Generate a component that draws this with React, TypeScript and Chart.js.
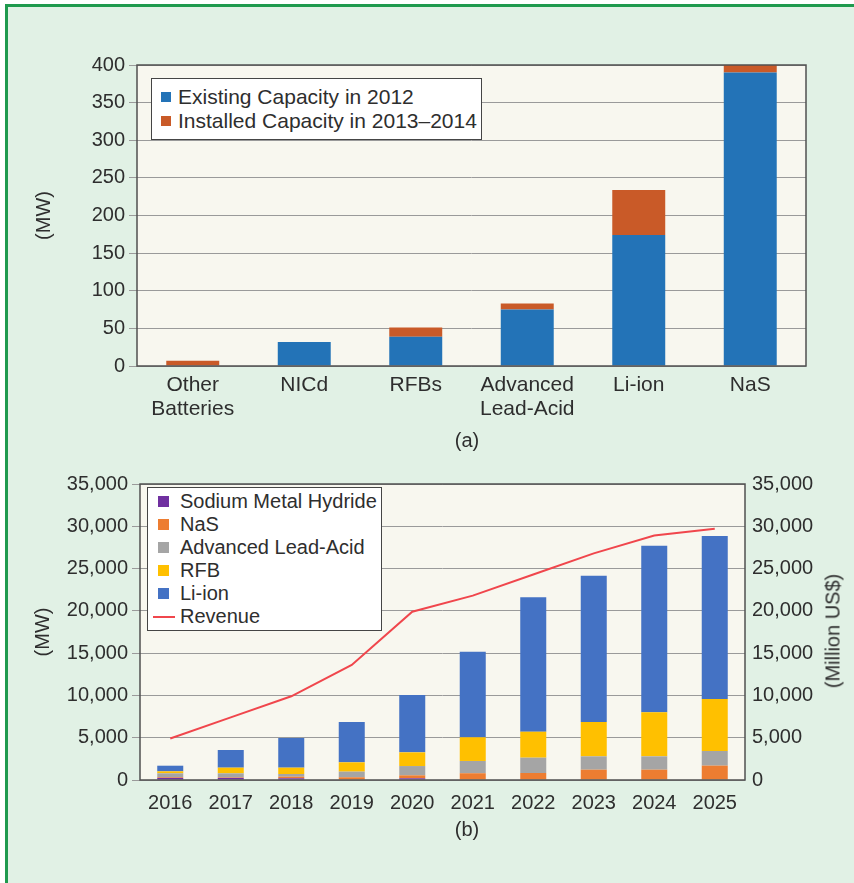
import React, { useEffect, useRef } from 'react';
import { Chart, registerables } from 'chart.js';

Chart.register(...registerables);

const FONT = '"Liberation Sans", Arial, Helvetica, sans-serif';
const TEXT = '#2e2e2e';
const GRID = '#9a9a9a';
const FRAME = '#505050';
const PLOT_BG = '#f8f7ef';

// ---------- Chart (a) data ----------
const categoriesA: (string | string[])[] = [['Other', 'Batteries'], 'NICd', 'RFBs', ['Advanced', 'Lead-Acid'], 'Li-ion', 'NaS'];
const existing2012 = [0, 32, 39, 75, 174, 390];
const installed2013to2014 = [7, 0, 12, 8, 60, 10];
const seriesNamesA = ['Existing Capacity in 2012', 'Installed Capacity in 2013–2014'];
const seriesColorsA = ['#2373b7', '#c95a28'];
const yMaxA = 400;
const yStepA = 50;

// ---------- Chart (b) data ----------
const years = ['2016', '2017', '2018', '2019', '2020', '2021', '2022', '2023', '2024', '2025'];
const sodiumMetalHydride = [250, 250, 200, 0, 200, 0, 0, 0, 0, 0];
const nasMW = [80, 60, 190, 320, 350, 800, 830, 1220, 1220, 1700];
const advancedLeadAcid = [460, 480, 320, 670, 1100, 1450, 1810, 1580, 1580, 1730];
const rfb = [240, 670, 750, 1100, 1620, 2800, 3070, 4060, 5200, 6150];
const liIon = [660, 2090, 3510, 4770, 6780, 10120, 15900, 17300, 19700, 19270];
const revenue = [4900, 7400, 9900, 13600, 19900, 21800, 24300, 26800, 28900, 29700];
const seriesNamesB = ['Sodium Metal Hydride', 'NaS', 'Advanced Lead-Acid', 'RFB', 'Li-ion'];
const seriesColorsB = ['#7030a0', '#ed7d31', '#a5a5a5', '#ffc000', '#4472c4'];
const revenueName = 'Revenue';
const revenueColor = '#f0464c';
const yMaxB = 35000;
const yStepB = 5000;

const fmt = (v: number | string) => Number(v).toLocaleString('en-US');

const plotFrame = {
  id: 'plotFrame',
  beforeDraw(chart: any) {
    const { ctx, chartArea } = chart;
    const { left, top, width, height } = chartArea;
    ctx.save();
    ctx.fillStyle = PLOT_BG;
    ctx.fillRect(left, top, width, height);
    ctx.restore();
  },
  afterDatasetsDraw(chart: any) {
    const { ctx, chartArea } = chart;
    const { left, top, width, height } = chartArea;
    ctx.save();
    ctx.strokeStyle = FRAME;
    ctx.lineWidth = 1.5;
    ctx.strokeRect(left, top, width, height);
    ctx.restore();
  },
};

const tickFont = { family: FONT, size: 20 };
const catFontA = { family: FONT, size: 21 };

function ChartA() {
  const ref = useRef<HTMLCanvasElement>(null);
  useEffect(() => {
    const chart = new Chart(ref.current as HTMLCanvasElement, {
      type: 'bar',
      data: {
        labels: categoriesA as any,
        datasets: [
          { label: seriesNamesA[0], data: existing2012, backgroundColor: seriesColorsA[0], barPercentage: 0.475, categoryPercentage: 1 },
          { label: seriesNamesA[1], data: installed2013to2014, backgroundColor: seriesColorsA[1], barPercentage: 0.475, categoryPercentage: 1 },
        ],
      },
      options: {
        animation: false,
        responsive: false,
        layout: { padding: { left: 0, top: 25, right: 48, bottom: 0 } },
        plugins: { legend: { display: false }, tooltip: { enabled: false } },
        scales: {
          x: {
            stacked: true,
            grid: { display: false },
            border: { display: false },
            ticks: { color: TEXT, font: { ...catFontA, lineHeight: 1.14 }, padding: -1, maxRotation: 0, autoSkip: false },
            afterFit: (s: any) => { s.height = 74; },
          },
          y: {
            stacked: true,
            min: 0,
            max: yMaxA,
            ticks: { stepSize: yStepA, color: TEXT, font: tickFont, padding: 4 },
            grid: { color: GRID, lineWidth: 1, drawTicks: true, tickLength: 8 },
            border: { display: false },
            title: { display: true, text: '(MW)', color: TEXT, font: tickFont, padding: { top: 32, bottom: 0 } },
            afterFit: (s: any) => { s.width = 137; },
          },
        },
      } as any,
      plugins: [plotFrame],
    });
    return () => chart.destroy();
  }, []);
  return <canvas ref={ref} width={854} height={400} style={{ position: 'absolute', left: 0, top: 40, width: 854, height: 400 }} />;
}

function ChartB() {
  const ref = useRef<HTMLCanvasElement>(null);
  useEffect(() => {
    const barData = [sodiumMetalHydride, nasMW, advancedLeadAcid, rfb, liIon];
    const chart = new Chart(ref.current as HTMLCanvasElement, {
      type: 'bar',
      data: {
        labels: years,
        datasets: [
          {
            type: 'line',
            label: revenueName,
            data: revenue,
            yAxisID: 'y1',
            borderColor: revenueColor,
            borderWidth: 2,
            pointRadius: 0,
            tension: 0,
            fill: false,
            order: 0,
          } as any,
          ...barData.map((d, i) => ({
            type: 'bar',
            label: seriesNamesB[i],
            data: d,
            yAxisID: 'y',
            backgroundColor: seriesColorsB[i],
            barPercentage: 0.43,
            categoryPercentage: 1,
            order: 1,
          })),
        ],
      },
      options: {
        animation: false,
        responsive: false,
        layout: { padding: { left: 0, top: 24, right: 9, bottom: 0 } },
        plugins: { legend: { display: false }, tooltip: { enabled: false } },
        scales: {
          x: {
            stacked: true,
            grid: { display: false },
            border: { display: false },
            ticks: { color: TEXT, font: tickFont, padding: 3, maxRotation: 0, autoSkip: false },
            afterFit: (s: any) => { s.height = 40; },
          },
          y: {
            stacked: true,
            min: 0,
            max: yMaxB,
            ticks: { stepSize: yStepB, color: TEXT, font: tickFont, padding: 4, callback: (v: any) => fmt(v) },
            grid: { color: GRID, lineWidth: 1, drawTicks: true, tickLength: 8 },
            border: { display: false },
            title: { display: true, text: '(MW)', color: TEXT, font: tickFont, padding: { top: 31, bottom: 0 } },
            afterFit: (s: any) => { s.width = 140; },
          },
          y1: {
            position: 'right',
            min: 0,
            max: yMaxB,
            ticks: { stepSize: yStepB, color: TEXT, font: tickFont, padding: 7, callback: (v: any) => fmt(v) },
            grid: { drawOnChartArea: false, drawTicks: false },
            border: { display: false },
            afterFit: (s: any) => { s.width = 100; },
          },
        },
      } as any,
      plugins: [plotFrame],
    });
    return () => chart.destroy();
  }, []);
  return <canvas ref={ref} width={854} height={360} style={{ position: 'absolute', left: 0, top: 460, width: 854, height: 360 }} />;
}

const textStyle: React.CSSProperties = { fontFamily: FONT, fontSize: 20, color: TEXT, whiteSpace: 'nowrap' };

function LegendA() {
  return (
    <div style={{ position: 'absolute', left: 151, top: 78, width: 331, height: 62, boxSizing: 'border-box', background: '#ffffff', border: '1.5px solid #454545', paddingTop: 6 }}>
      {seriesNamesA.map((name, i) => (
        <div key={name} style={{ ...textStyle, fontSize: 21, position: 'relative', height: 24, lineHeight: '24px', paddingLeft: 26 }}>
          <span style={{ position: 'absolute', left: 9, top: 7, width: 10, height: 10, background: seriesColorsA[i] }} />
          {name}
        </div>
      ))}
    </div>
  );
}

function LegendB() {
  return (
    <div style={{ position: 'absolute', left: 147, top: 487, width: 235, height: 144, boxSizing: 'border-box', background: '#ffffff', border: '1.5px solid #454545', paddingTop: 2 }}>
      {seriesNamesB.map((name, i) => (
        <div key={name} style={{ ...textStyle, position: 'relative', height: 23, lineHeight: '23px', paddingLeft: 32 }}>
          <span style={{ position: 'absolute', left: 10, top: 6, width: 11, height: 11, background: seriesColorsB[i] }} />
          {name}
        </div>
      ))}
      <div style={{ ...textStyle, position: 'relative', height: 23, lineHeight: '23px', paddingLeft: 32 }}>
        <span style={{ position: 'absolute', left: 5, top: 11, width: 22, height: 2, background: revenueColor }} />
        {revenueName}
      </div>
    </div>
  );
}

export default function App() {
  return (
    <div style={{ position: 'absolute', left: 0, top: 0, width: 854, height: 883, overflow: 'hidden', background: '#ffffff' }}>
      <div style={{ position: 'absolute', left: 5, top: 4, width: 900, height: 900, background: '#e1f1e5', borderLeft: '3px solid #1f9a4e', borderTop: '3px solid #1f9a4e' }} />
      <ChartA />
      <ChartB />
      <LegendA />
      <LegendB />
      <div style={{ ...textStyle, position: 'absolute', left: 437, top: 428, width: 60, textAlign: 'center', lineHeight: '24px' }}>(a)</div>
      <div style={{ ...textStyle, position: 'absolute', left: 437, top: 817, width: 60, textAlign: 'center', lineHeight: '24px' }}>(b)</div>
      <div style={{ ...textStyle, position: 'absolute', left: 833, top: 631, transform: 'translate(-50%, -50%) rotate(-90deg)' }}>(Million US$)</div>
    </div>
  );
}
